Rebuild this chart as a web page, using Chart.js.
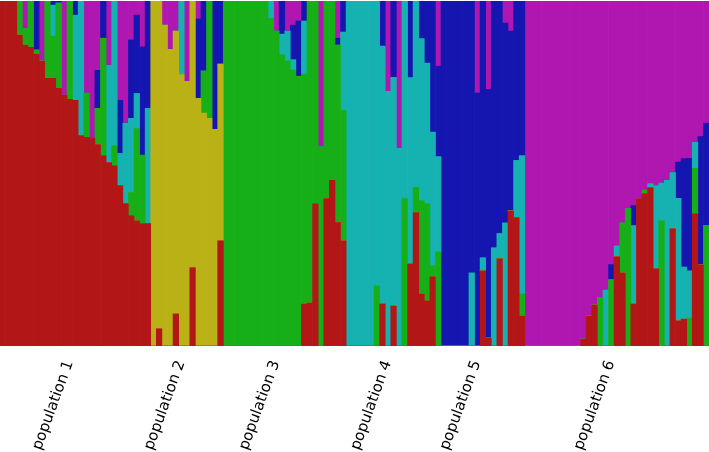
<!DOCTYPE html>
<html>
<head>
<meta charset="utf-8">
<script src="https://cdn.jsdelivr.net/npm/chart.js@4"></script>
<style>
  body { margin: 0; background: #fff; }
</style>
</head>
<body>
<canvas id="chart" width="709" height="452"></canvas>
<script>
// populations and how many individuals each holds (left to right)
const populations = ['population 1', 'population 2', 'population 3', 'population 4', 'population 5', 'population 6'];
const popSizes = [27, 13, 22, 17, 15, 33];

// ancestry proportions (%) per individual, one array per cluster
const red = [
    100, 100, 100, 90.1, 87.2, 86.6, 84.6, 82.6, 77.6, 77.6, 74.7, 72.7, 71.5, 71.2, 61.0, 60.5, 60.2, 58.4, 55.2, 53.2, 52.3, 46.5, 41.3, 37.8, 36.3, 35.5, 35.5,
    0, 5.0, 0, 0, 9.3, 0, 0, 22.7, 0, 0, 0, 0, 30.5,
    0, 0, 0, 0, 0, 0, 0, 0, 0, 0, 0, 0, 0, 0, 12.2, 12.5, 41.3, 0, 42.7, 48.0, 35.8, 30.5,
    0, 0, 0, 0, 0, 0, 12.2, 0, 11.6, 0, 0, 23.8, 38.7, 15.1, 13.1, 20.1, 0,
    0, 0, 0, 0, 0, 0, 0, 21.8, 2.3, 0, 25.3, 0, 39.2, 37.2, 8.7,
    0, 0, 0, 0, 0, 0, 0, 0, 0, 0, 2.0, 8.7, 11.9, 0, 0, 0, 25.9, 21.2, 0, 12.2, 42.7, 44.2, 45.9, 22.4, 0, 0, 34.0, 7.3, 7.8, 0, 38.4, 23.5, 0
];
const yellow = [
    0, 0, 0, 0, 0, 0, 0, 0, 0, 0, 0, 0, 0, 0, 0, 0, 0, 0, 0, 0, 0, 0, 0, 0, 0, 0, 0,
    100, 95.0, 93.0, 86.0, 82.0, 78.7, 76.7, 77.3, 71.8, 67.5, 66.0, 62.8, 51.2,
    0, 0, 0, 0, 0, 0, 0, 0, 0, 0, 0, 0, 0, 0, 0, 0, 0, 0, 0, 0, 0, 0,
    0, 0, 0, 0, 0, 0, 0, 0, 0, 0, 0, 0, 0, 0, 0, 0, 0,
    0, 0, 0, 0, 0, 0, 0, 0, 0, 0, 0, 0, 0, 0, 0,
    0, 0, 0, 0, 0, 0, 0, 0, 0, 0, 0, 0, 0, 0, 0, 0, 0, 0, 0, 0, 0, 0, 0, 0, 0, 0, 0, 0, 0, 0, 0, 0, 0
];
const green = [
    0, 0, 0, 9.9, 4.9, 13.4, 1.2, 0, 22.4, 12.2, 24.7, 0, 28.5, 0, 0, 12.8, 0, 10.5, 34.0, 0, 5.8, 0, 0, 6.7, 26.7, 19.8, 0,
    0, 0, 0, 0, 0, 0, 0, 0, 0, 12.2, 34.0, 0, 0,
    100, 100, 100, 100, 100, 100, 100, 100, 95.0, 91.3, 84.4, 82.6, 80.0, 78.2, 66.6, 87.5, 58.7, 57.8, 57.3, 52.0, 51.4, 37.8,
    0, 0, 0, 0, 0, 17.4, 0, 0, 0, 0, 42.7, 0, 7.3, 27.0, 28.2, 3.2, 27.3,
    0, 0, 0, 0, 0, 0, 0, 0, 0, 0, 0, 0, 0, 0, 6.4,
    0, 0, 0, 0, 0, 0, 0, 0, 0, 0, 0, 0, 0, 14.0, 0, 19.2, 0, 14.5, 39.8, 0, 0, 1.0, 0, 0, 36.3, 0, 0, 0, 0, 8.1, 13.1, 0, 34.9
];
const cyan = [
    0, 0, 0, 0, 0, 0, 0, 0, 0, 9.0, 0, 0, 0, 24.7, 39.0, 0, 0, 0, 0, 28.2, 41.9, 9.3, 23.3, 21.5, 10.2, 0, 33.4,
    0, 0, 0, 0, 0, 21.3, 0, 0, 0, 0, 0, 0, 0,
    0, 0, 0, 0, 0, 0, 0, 0, 5.0, 0, 6.0, 8.7, 3.0, 0, 15.4, 0, 0, 0, 0, 0, 0, 22.7,
    100, 100, 100, 100, 100, 82.6, 74.7, 73.8, 66.3, 57.3, 57.3, 54.0, 54.0, 47.0, 40.7, 38.7, 27.6,
    0, 0, 0, 0, 0, 21.2, 0, 3.8, 0, 28.5, 7.3, 35.7, 0, 16.6, 40.1,
    0, 0, 0, 0, 0, 0, 0, 0, 0, 0, 0, 0, 0, 0, 16.3, 0, 3.2, 0, 0, 22.7, 0, 0, 1.2, 24.1, 11.0, 48.0, 16.3, 35.5, 15.1, 13.7, 7.6, 0, 0
];
const blue = [
    0, 0, 0, 0, 0, 0, 14.2, 0, 0, 1.2, 0.6, 0, 0, 4.1, 0, 0, 0, 11.0, 10.8, 0, 0, 15.4, 0, 22.7, 22.7, 31.4, 31.1,
    0, 0, 0, 0, 0, 0, 0, 0, 23.0, 20.3, 0, 37.2, 18.3,
    0, 0, 0, 0, 0, 0, 0, 0, 0, 0, 9.6, 0, 10.0, 16.0, 5.8, 0, 0, 0, 0, 0, 2.0, 9.0,
    0, 0, 0, 0, 0, 0, 13.1, 0, 22.1, 0, 0, 22.2, 0, 10.9, 18.0, 38.0, 26.2,
    100, 100, 100, 100, 100, 78.8, 73.3, 74.4, 72.1, 71.5, 67.4, 57.9, 52.1, 46.2, 44.8,
    0, 0, 0, 0, 0, 0, 0, 0, 0, 0, 0, 0, 0, 0, 0, 4.4, 0, 0, 0, 5.8, 0, 0, 0, 0, 0, 0, 0, 10.5, 31.4, 32.6, 0, 37.2, 29.7
];
const magenta = [
    0, 0, 0, 0, 7.9, 0, 0, 17.4, 0, 0, 0, 27.3, 0, 0, 0, 26.7, 39.8, 20.1, 0, 18.6, 0, 28.8, 35.4, 11.3, 4.1, 13.3, 0,
    0, 0, 7.0, 14.0, 8.7, 0, 23.3, 0, 5.2, 0, 0, 0, 0,
    0, 0, 0, 0, 0, 0, 0, 0, 0, 8.7, 0, 8.7, 7.0, 5.8, 0, 0, 0, 42.2, 0, 0, 10.8, 0,
    0, 0, 0, 0, 0, 0, 0, 26.2, 0, 42.7, 0, 0, 0, 0, 0, 0, 18.9,
    0, 0, 0, 0, 0, 0, 26.7, 0, 25.6, 0, 0, 6.4, 8.7, 0, 0,
    100, 100, 100, 100, 100, 100, 100, 100, 100, 100, 98.0, 91.3, 88.1, 86.0, 83.7, 76.4, 70.9, 64.3, 60.2, 59.3, 57.3, 54.8, 52.9, 53.5, 52.7, 52.0, 49.7, 46.7, 45.7, 45.6, 40.9, 39.3, 35.4
];

// one category per individual, label shown only under the middle of each population
let labels = [];
let tickText = {};
let start = 0;
popSizes.forEach((size, p) => {
    for (let i = 0; i < size; i++) labels.push(populations[p] + ' #' + (i + 1));
    tickText[start + Math.floor((size - 1) / 2)] = populations[p];
    start += size;
});

function makeSet(label, data, color) {
    return {
        label: label,
        data: data,
        backgroundColor: color,
        borderWidth: 0,
        barPercentage: 1,
        categoryPercentage: 1
    };
}

const ctx = document.getElementById('chart').getContext('2d');
new Chart(ctx, {
    type: 'bar',
    data: {
        labels: labels,
        datasets: [
            makeSet('K1', red, '#b21616'),
            makeSet('K2', yellow, '#b9b116'),
            makeSet('K3', green, '#17af17'),
            makeSet('K4', cyan, '#16b1b1'),
            makeSet('K5', blue, '#1515b0'),
            makeSet('K6', magenta, '#b016b0')
        ]
    },
    options: {
        responsive: false,
        animation: false,
        layout: { padding: { top: 1, left: 0, right: 0, bottom: 0 } },
        plugins: {
            legend: { display: false },
            tooltip: { enabled: false }
        },
        scales: {
            x: {
                stacked: true,
                grid: { display: false },
                border: { display: false },
                afterFit: (scale) => {
                    scale.height = 106;
                    scale.paddingLeft = 0;
                    scale.paddingRight = 0;
                },
                ticks: {
                    autoSkip: false,
                    minRotation: 70,
                    maxRotation: 70,
                    padding: 4,
                    labelOffset: -6,
                    color: '#000',
                    font: { family: 'DejaVu Sans', size: 15 },
                    callback: (value, index) => tickText[index] || ''
                }
            },
            y: {
                stacked: true,
                display: false,
                min: 0,
                max: 100
            }
        }
    }
});
</script>
</body>
</html>
